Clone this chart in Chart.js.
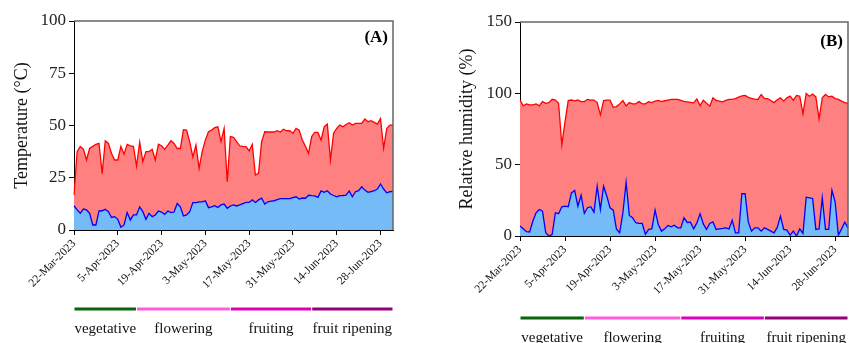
<!DOCTYPE html>
<html>
<head>
<meta charset="utf-8">
<script src="https://cdn.jsdelivr.net/npm/chart.js@4.4.0/dist/chart.umd.min.js"></script>
<style>
  body { margin: 0; background: #fff; width: 849px; height: 343px; overflow: hidden; position: relative; }
  #chartA { position: absolute; left: 0; top: 0; }
  #chartB { position: absolute; left: 420px; top: 0; }
</style>
</head>
<body>
<canvas id="chartA" width="420" height="343"></canvas>
<canvas id="chartB" width="429" height="343"></canvas>
<script>
// daily values, 22-Mar-2023 onwards
var startDate = [2023, 2, 22];
var tempMax = [16.7, 37.5, 40, 38.7, 33.5, 39, 40, 41, 41.5, 27, 42.7, 41.4, 36.6, 33.5, 33.5, 40, 36.3, 41, 40.3, 40,
  30.6, 42, 32.7, 37.5, 37.5, 38.6, 33.5, 41, 40.3, 38.6, 40.6, 42.7, 41.4, 39, 39, 48, 47.8, 42.2, 35, 40.6,
  29.5, 37.5, 43, 47, 47.8, 49, 49.4, 42.3, 48.6, 23.1, 44.7, 44.3, 42.3, 40.3, 40, 39.9, 37.8, 41, 26.3, 27.1,
  42.3, 47, 46.9, 46.9, 46.9, 47.5, 46.9, 48.2, 47.5, 47.5, 46.3, 48.6, 47.8, 43, 40, 36.7, 44.7, 46.7, 46.7, 43,
  49.4, 50.7, 33.5, 46.3, 48.6, 50.2, 49.4, 50.5, 51.3, 50.2, 51, 51, 51, 53.1, 51.8, 52.3, 51.5, 50.7, 53.3, 39.1,
  48.6, 50.2, 50.2];
var tempMin = [11.6, 9.6, 8, 10, 9.6, 8, 2.4, 2.4, 9.1, 9.2, 9.9, 8.8, 6, 6.4, 5.1, 1.3, 2.4, 8.4, 4.8, 7.2,
  7.2, 11.1, 8.8, 5.1, 8, 6.4, 7.2, 9.1, 8.6, 7.5, 9.1, 8.3, 8.6, 12.7, 11.1, 6.7, 7.2, 8.8, 13.1, 13.1,
  13.5, 13.5, 14, 10.7, 11.1, 11.6, 10.8, 12, 12.4, 10.4, 11.5, 12, 11.5, 12, 12.6, 13.2, 13.2, 14.4, 13.2, 14.4,
  15.2, 12.4, 13.5, 13.8, 14, 14.5, 15, 15, 15, 15, 15.5, 15.9, 14.8, 15.3, 15.2, 16.6, 16.4, 16.3, 15.6, 18.7,
  18, 18.8, 17.2, 16.5, 15.9, 16.4, 16.5, 16.7, 18.7, 15.9, 18.3, 18.8, 20.7, 19.1, 18, 18.4, 18.8, 19.6, 22, 19.6,
  17.8, 18.3, 18.5];
var rhMax = [95.3, 91.2, 92.6, 91.9, 91.9, 92.6, 91.2, 94.2, 93, 93.5, 95.8, 95.3, 93, 64, 80, 94.9, 95.3, 94.7, 95.3, 94.2,
  94.2, 95.8, 95.3, 95.3, 93.5, 84.9, 94.9, 95.3, 95.3, 90.2, 90.7, 92.6, 94.9, 91.2, 93.5, 92.6, 92.6, 94.2, 92.6, 92.6,
  94.2, 93.5, 94.5, 95, 94.2, 94.8, 95.3, 95.7, 95.7, 95.7, 95, 94.3, 94, 93.7, 93.3, 96.1, 91.4, 95.2, 93, 91,
  96.8, 95, 94.5, 94, 95, 95.7, 95.7, 96.3, 97.3, 98.2, 98.5, 97.2, 96.4, 96, 95.7, 99.2, 96.5, 96.3, 95, 93.5,
  95.5, 96.8, 94.5, 96.8, 98, 95, 98.5, 98, 85.6, 99.9, 98, 99.5, 97.5, 82.1, 96.8, 99.2, 97.5, 98, 96.3, 95.8,
  94.5, 93.5, 92.9];
var rhMin = [7, 5.1, 3, 2.8, 10.5, 16.3, 18.6, 17.4, 2.3, 0, 1.2, 16.3, 15.6, 20.5, 20.9, 20.5, 30.2, 31.9, 20.9, 28.6,
  15.8, 19.8, 20.5, 16.7, 34.9, 18.6, 34.9, 27.9, 19.8, 18.1, 4.7, 2.3, 16.3, 37.7, 14.4, 12.8, 9.3, 8.8, 8.8, 1.2,
  4.7, 5, 18.1, 8.1, 3.4, 5, 7.4, 6.4, 7.6, 5.7, 5.7, 12.8, 9.5, 9.7, 5, 9.2, 15.5, 8.5, 4.6, 8.8,
  9.9, 4.6, 5, 5.3, 5.7, 5, 11.1, 2.2, 2.2, 29.6, 29.6, 9.7, 3.4, 5.7, 5.7, 3.4, 5.7, 4.6, 3.4, 2.2,
  6, 13.9, 4.6, 4.1, 0.6, 3.4, 0, 5, 1.8, 27.2, 26.8, 26.3, 4.6, 5, 26.8, 4.6, 4.6, 32.1, 24, 0.6,
  5, 9.7, 5.7];
var tempTicks = [0, 25, 50, 75, 100];
var rhTicks = [0, 50, 100, 150];
// growth stages, in day index
var phaseNames = ["vegetative", "flowering", "fruiting", "fruit ripening"];
var phaseStart = [0, 20, 50, 76];
var phaseEnd = [20, 50, 76, 102];

var phaseColors = ["#0a640a", "#ff5cd8", "#dc00bb", "#940078"];
var months = ["Jan","Feb","Mar","Apr","May","Jun","Jul","Aug","Sep","Oct","Nov","Dec"];
var serif = "'Liberation Serif', 'DejaVu Serif', serif";

var dates = [];
for (var i = 0; i < tempMax.length; i++) {
  var d = new Date(Date.UTC(startDate[0], startDate[1], startDate[2] + i));
  dates.push(d.getUTCDate() + "-" + months[d.getUTCMonth()] + "-" + d.getUTCFullYear());
}

var extras = {
  id: "extras",
  afterDraw: function(chart, args, opts) {
    var ctx = chart.ctx, a = chart.chartArea, x = chart.scales.x;
    ctx.save();
    // frame top / right
    ctx.strokeStyle = "#666";
    ctx.lineWidth = 1.5;
    ctx.beginPath();
    ctx.moveTo(a.left, a.top);
    ctx.lineTo(a.right, a.top);
    ctx.lineTo(a.right, a.bottom);
    ctx.stroke();
    // panel letter
    ctx.fillStyle = "#000";
    ctx.font = "bold 17px " + serif;
    ctx.textAlign = "right";
    ctx.textBaseline = "middle";
    ctx.fillText(opts.letter, a.right - 5, a.top + opts.letterDy);
    // growth stage bars
    var y = a.bottom + opts.barDy;
    ctx.lineWidth = 3;
    ctx.font = "15px " + serif;
    ctx.textAlign = "center";
    for (var k = 0; k < phaseNames.length; k++) {
      var x1 = x.getPixelForValue(phaseStart[k]);
      var x2 = x.getPixelForValue(phaseEnd[k]);
      ctx.strokeStyle = phaseColors[k];
      ctx.beginPath();
      ctx.moveTo(x1 + 0.5, y);
      ctx.lineTo(x2 - 0.5, y);
      ctx.stroke();
      ctx.fillStyle = "#111";
      ctx.fillText(phaseNames[k], (x1 + x2) / 2, y + 20);
    }
    ctx.restore();
  }
};

function makeChart(id, maxData, minData, yTitle, yMax, yStep, padLeft, yWidth, xHeight, padRight, padTop, letter, letterDy, barDy) {
  return new Chart(document.getElementById(id), {
    type: "line",
    data: {
      labels: dates,
      datasets: [
        {
          label: "min",
          data: minData,
          borderColor: "#0000ff",
          borderWidth: 1.3,
          backgroundColor: "#74bbf7",
          fill: "origin",
          pointRadius: 0,
          tension: 0
        },
        {
          label: "max",
          data: maxData,
          borderColor: "#ff0000",
          borderWidth: 1.3,
          backgroundColor: "#ff8080",
          fill: "origin",
          pointRadius: 0,
          tension: 0
        }
      ]
    },
    options: {
      responsive: false,
      animation: false,
      layout: { padding: { left: padLeft, right: padRight, top: padTop, bottom: 0 } },
      plugins: {
        legend: { display: false },
        tooltip: { enabled: false },
        extras: { letter: letter, letterDy: letterDy, barDy: barDy }
      },
      scales: {
        x: {
          grid: { drawOnChartArea: false, drawTicks: true, tickLength: 5, color: "#000" },
          border: { display: true, color: "#000", width: 1 },
          ticks: {
            autoSkip: false,
            minRotation: 45,
            maxRotation: 45,
            padding: 2,
            color: "#111",
            font: { family: serif, size: 11.5 },
            callback: function(v, i) { return i % 14 === 0 ? dates[i] : null; }
          },
          afterFit: function(s) { s.height = xHeight; s.paddingLeft = 0; s.paddingRight = 0; }
        },
        y: {
          min: 0,
          max: yMax,
          grid: { drawOnChartArea: false, drawTicks: true, tickLength: 5, color: "#000" },
          border: { display: true, color: "#000", width: 1 },
          ticks: {
            stepSize: yStep,
            padding: 3,
            color: "#222",
            font: { family: serif, size: 17 }
          },
          title: {
            display: true,
            text: yTitle,
            color: "#111",
            font: { family: serif, size: 18 }
          },
          afterFit: function(s) { s.width = yWidth; }
        }
      }
    },
    plugins: [extras]
  });
}

makeChart("chartA", tempMax, tempMin, "Temperature (°C)", tempTicks[tempTicks.length - 1], tempTicks[1] - tempTicks[0],
  7, 67, 113, 27, 21, "(A)", 17, 79);
makeChart("chartB", rhMax, rhMin, "Relative humidity (%)", rhTicks[rhTicks.length - 1], rhTicks[1] - rhTicks[0],
  32, 68, 107, 1, 22, "(B)", 20, 82);
</script>
</body>
</html>
